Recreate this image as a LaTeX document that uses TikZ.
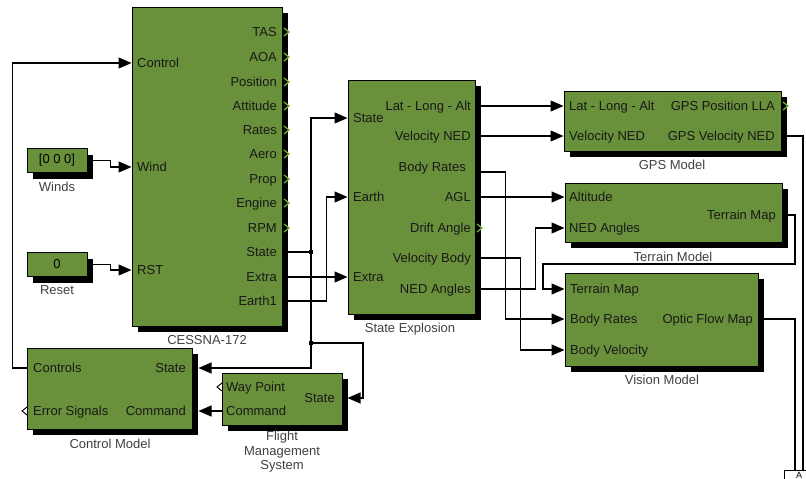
\documentclass[tikz,border=0pt]{standalone}
\usepackage{fontspec}
\setmainfont{Liberation Sans}
\usetikzlibrary{arrows.meta,shadows,calc,positioning}
\definecolor{simgreen}{RGB}{105,144,58}
\definecolor{portgreen}{RGB}{112,176,48}
\begin{document}
\begin{tikzpicture}[x=1pt,y=-1pt,
  every node/.style={font=\fontsize{13}{14.5}\selectfont},
  blk/.style={draw,line width=1pt,fill=simgreen,
    drop shadow={shadow xshift=6pt,shadow yshift=-6pt,fill=black,opacity=1}},
  lbl/.style={inner sep=0pt,text height=9pt,text depth=0pt,text=black!90},
  blkcap/.style={inner sep=0pt,text height=9pt,text depth=0pt,text=black!75},
  wire/.style={line width=1.1pt},
  sig/.style={wire,-{Triangle[length=13pt,width=11pt]}},
  outmark/.style={portgreen,line width=1.3pt},
  openmark/.style={line width=0.9pt},
  junc/.style={fill,inner sep=0pt,minimum size=4.5pt}]
\useasboundingbox (0,0) rectangle (806,479);
% Aircraft model
\node[blk,minimum width=150pt,minimum height=319pt] (cessna) at (207,166.5) {};
\node[lbl,anchor=west] (c-ctrl) at (137,63) {Control};
\node[lbl,anchor=west] (c-wind) at (137,167) {Wind};
\node[lbl,anchor=west] (c-rst) at (137,270) {RST};
\foreach \nm/\yy in {TAS/32,AOA/57,Position/82,Attitude/106,Rates/130,Aero/154,Prop/179,Engine/203,RPM/228} {
  \node[lbl,anchor=east] (c-\nm) at (277,\yy) {\nm};
  \draw[outmark] (284,\yy-4) -- (289,\yy) -- (284,\yy+4);
}
\node[lbl,anchor=east] (c-state) at (277,252) {State};
\node[lbl,anchor=east] (c-extra) at (277,277) {Extra};
\node[lbl,anchor=east] (c-earth) at (277,301) {Earth1};
\node[blkcap] (cessna-cap) at (207,340) {CESSNA-172};
% Constant inputs
\node[blk,minimum width=60pt,minimum height=24pt] (winds) at (57,160.5) {[0 0 0]};
\node[blkcap] (winds-cap) at (57,187) {Winds};
\node[blk,minimum width=60pt,minimum height=24pt] (reset) at (57,264.5) {0};
\node[blkcap] (reset-cap) at (57,290) {Reset};
% State explosion
\node[blk,minimum width=127pt,minimum height=234pt] (sx) at (411.5,197) {};
\node[lbl,anchor=west] (sx-state) at (353,118) {State};
\node[lbl,anchor=west] (sx-earth) at (353,197) {Earth};
\node[lbl,anchor=west] (sx-extra) at (353,277) {Extra};
\node[lbl,anchor=east] (sx-lla) at (471,106) {Lat - Long - Alt};
\node[lbl,anchor=east] (sx-vned) at (471,136) {Velocity NED};
\node[lbl,anchor=east] (sx-br) at (466,167) {Body Rates};
\node[lbl,anchor=east] (sx-agl) at (471,197) {AGL};
\node[lbl,anchor=east] (sx-drift) at (471,228) {Drift Angle};
\node[lbl,anchor=east] (sx-vb) at (471,258) {Velocity Body};
\node[lbl,anchor=east] (sx-ned) at (471,289) {NED Angles};
\draw[outmark] (477,224) -- (482,228) -- (477,232);
\node[blkcap] (sx-cap) at (410,328) {State Explosion};
% GPS model
\node[blk,minimum width=217pt,minimum height=60pt] (gps) at (672.5,121) {};
\node[lbl,anchor=west] (g-lla) at (569,106) {Lat - Long - Alt};
\node[lbl,anchor=west] (g-vned) at (569,136) {Velocity NED};
\node[lbl,anchor=east] (g-pos) at (775,106) {GPS Position LLA};
\node[lbl,anchor=east] (g-vel) at (775,136) {GPS Velocity NED};
\draw[outmark] (783,102) -- (788,106) -- (783,110);
\node[blkcap] (gps-cap) at (672,165) {GPS Model};
% Terrain model
\node[blk,minimum width=217pt,minimum height=59pt] (ter) at (673.5,212.5) {};
\node[lbl,anchor=west] (t-alt) at (569,197) {Altitude};
\node[lbl,anchor=west] (t-ned) at (569,228) {NED Angles};
\node[lbl,anchor=east] (t-map) at (776,215) {Terrain Map};
\node[blkcap] (ter-cap) at (673,257) {Terrain Model};
% Vision model
\node[blk,minimum width=193pt,minimum height=93pt] (vis) at (661.5,319.5) {};
\node[lbl,anchor=west] (v-map) at (570,289) {Terrain Map};
\node[lbl,anchor=west] (v-br) at (570,319) {Body Rates};
\node[lbl,anchor=west] (v-bv) at (570,350) {Body Velocity};
\node[lbl,anchor=east] (v-ofm) at (753,319) {Optic Flow Map};
\node[blkcap] (vis-cap) at (662,380) {Vision Model};
% Control model
\node[blk,minimum width=165pt,minimum height=81pt] (cm) at (109.5,388.5) {};
\node[lbl,anchor=west] (cm-ctrls) at (33,368) {Controls};
\node[lbl,anchor=west] (cm-err) at (33,411) {Error Signals};
\node[lbl,anchor=east] (cm-state) at (186,368) {State};
\node[lbl,anchor=east] (cm-cmd) at (186,411) {Command};
\draw[openmark] (27,407) -- (22,411) -- (27,415);
\node[blkcap] (cm-cap) at (110,444) {Control Model};
% Flight management system
\node[blk,minimum width=120pt,minimum height=52pt] (fms) at (282,399) {};
\node[lbl,anchor=west] (f-wp) at (226,387) {Way Point};
\node[lbl,anchor=west] (f-cmd) at (226,411) {Command};
\node[lbl,anchor=east] (f-state) at (335,398) {State};
\draw[openmark] (222,383) -- (217,387) -- (222,391);
\node[blkcap,align=center,text height=,text depth=] (fms-cap) at (282,452) {Flight\\Management\\System};
% partly visible block at the bottom right
\node[draw,line width=0.8pt,fill=white,anchor=north west,minimum width=32pt,minimum height=20pt] (ablk) at (784,470) {};
\node[font=\fontsize{9}{10}\selectfont,inner sep=0pt] (ablk-txt) at (799,475) {A};
\coordinate (a1) at (795,470);
\coordinate (a2) at (803,470);
% junctions on the State bus
\coordinate (j1) at (311,252);
\coordinate (j2) at (311,343);
% connections
\draw[sig] (cm.west |- cm-ctrls) -- ++(-14,0) |- (cessna.west |- c-ctrl);
\draw[sig] (winds.east) -- ++(23,0) |- (cessna.west |- c-wind);
\draw[sig] (reset.east) -- ++(23,0) |- (cessna.west |- c-rst);
\draw[wire] (cessna.east |- c-state) -- (j1) -- (j2);
\draw[sig] (j1) |- (sx.west |- sx-state);
\draw[sig] (j2) |- ($(cm.east |- cm-state)+(6,0)$);
\draw[sig] (j2) -- ++(52,0) |- ($(fms.east |- f-state)+(5,0)$);
\draw[sig] (cessna.east |- c-extra) -- (sx.west |- sx-extra);
\draw[sig] (cessna.east |- c-earth) -- ++(44,0) |- (sx.west |- sx-earth);
\draw[sig] (fms.west |- f-cmd) -- ($(cm.east |- cm-cmd)+(6,0)$);
\draw[sig] (sx.east |- sx-lla) -- (gps.west |- g-lla);
\draw[sig] (sx.east |- sx-vned) -- (gps.west |- g-vned);
\draw[sig] (sx.east |- 0,172) -- ++(30,0) |- (vis.west |- v-br);
\draw[sig] (sx.east |- sx-agl) -- (ter.west |- t-alt);
\draw[sig] (sx.east |- sx-vb) -- ++(45,0) |- (vis.west |- v-bv);
\draw[sig] (sx.east |- sx-ned) -- ++(60,0) |- (ter.west |- t-ned);
\draw[sig] (ter.east |- t-map) -| (795,264) -- (543,264) |- (vis.west |- v-map);
\draw[wire] (vis.east |- v-ofm) -| (a1);
\draw[wire] (gps.east |- g-vel) -| (a2);
\node[junc] (jd1) at (j1) {};
\node[junc] (jd2) at (j2) {};
\end{tikzpicture}
\end{document}
